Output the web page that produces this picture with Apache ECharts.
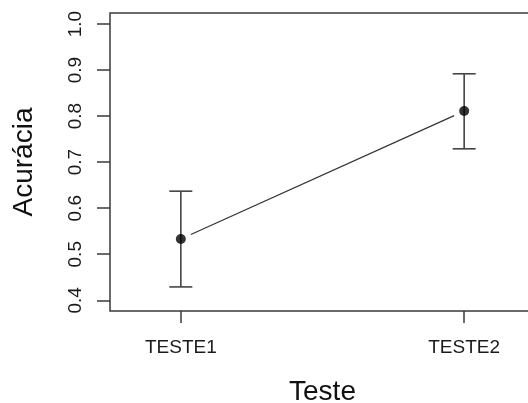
<!DOCTYPE html>
<html>
<head>
<meta charset="utf-8">
<script src="https://cdn.jsdelivr.net/npm/echarts@6/dist/echarts.min.js"></script>
<style>
  html, body { margin: 0; padding: 0; background: #fff; }
  #chart { width: 528px; height: 403px; }
</style>
</head>
<body>
<div id="chart"></div>
<script>
//  Data

var categories = ['TESTE1', 'TESTE2'];
var xPos = [1, 2];
var means = [0.533, 0.811];
var lower = [0.429, 0.729];
var upper = [0.637, 0.892];
var yTicks = [0.4, 0.5, 0.6, 0.7, 0.8, 0.9, 1.0];

var fontFam = 'Liberation Sans, Arial, sans-serif';

//  Series data built from arrays

var pointData = xPos.map(function(x, i) { return [x, means[i]]; });
var barData = xPos.map(function(x, i) { return [x, lower[i], upper[i]]; });
var lineData = [];
for (var i = 0; i < xPos.length - 1; i++) {
  lineData.push([xPos[i], means[i], xPos[i + 1], means[i + 1]]);
}

//  Chart

var myChart = echarts.init(document.getElementById('chart'), null, {renderer: 'canvas'});

var option = {
  animation: false,
  grid: {
    left: 110,
    top: 13,
    right: -7,
    bottom: 92,
    show: true,
    borderColor: '#3a3a3a',
    borderWidth: 1.5,
    backgroundColor: 'transparent',
    outerBoundsMode: 'none'
  },
  xAxis: {
    type: 'value',
    min: 0.75,
    max: 2.25,
    name: 'Teste',
    nameLocation: 'middle',
    nameGap: 67,
    nameTextStyle: { fontSize: 28, color: '#111', fontFamily: fontFam },
    splitLine: { show: false },
    axisLine: { show: false },
    axisTick: {
      show: true,
      length: 12,
      customValues: xPos,
      lineStyle: { color: '#3a3a3a', width: 1.5 }
    },
    axisLabel: {
      customValues: xPos,
      margin: 27,
      fontSize: 19,
      color: '#1a1a1a',
      fontFamily: fontFam,
      formatter: function(v) {
        var idx = xPos.indexOf(v);
        return idx >= 0 ? categories[idx] : '';
      }
    }
  },
  yAxis: {
    type: 'value',
    min: 0.3767,
    max: 1.024,
    name: 'Acurácia',
    nameLocation: 'middle',
    nameGap: 72,
    nameTextStyle: { fontSize: 28, color: '#111', fontFamily: fontFam },
    splitLine: { show: false },
    axisLine: { show: false },
    axisTick: {
      show: true,
      length: 13,
      customValues: yTicks,
      lineStyle: { color: '#3a3a3a', width: 1.5 }
    },
    axisLabel: {
      customValues: yTicks,
      rotate: 90,
      margin: 25,
      fontSize: 19,
      color: '#1a1a1a',
      fontFamily: fontFam,
      formatter: function(v) { return v.toFixed(1); }
    }
  },
  series: [
    {
      // connecting line, with small gaps around the points
      type: 'custom',
      data: lineData,
      renderItem: function(params, api) {
        var p1 = api.coord([api.value(0), api.value(1)]);
        var p2 = api.coord([api.value(2), api.value(3)]);
        var dx = p2[0] - p1[0], dy = p2[1] - p1[1];
        var len = Math.sqrt(dx * dx + dy * dy);
        var gap = 11;
        var ux = dx / len, uy = dy / len;
        return {
          type: 'line',
          shape: {
            x1: p1[0] + ux * gap, y1: p1[1] + uy * gap,
            x2: p2[0] - ux * gap, y2: p2[1] - uy * gap
          },
          style: { stroke: '#333', lineWidth: 1.2 }
        };
      },
      z: 2
    },
    {
      // error bars
      type: 'custom',
      data: barData,
      renderItem: function(params, api) {
        var lo = api.coord([api.value(0), api.value(1)]);
        var hi = api.coord([api.value(0), api.value(2)]);
        var hw = 11.5;
        var st = { stroke: '#444', lineWidth: 1.6 };
        return {
          type: 'group',
          children: [
            { type: 'line', shape: { x1: lo[0], y1: lo[1], x2: hi[0], y2: hi[1] }, style: st },
            { type: 'line', shape: { x1: hi[0] - hw, y1: hi[1], x2: hi[0] + hw, y2: hi[1] }, style: st },
            { type: 'line', shape: { x1: lo[0] - hw, y1: lo[1], x2: lo[0] + hw, y2: lo[1] }, style: st }
          ]
        };
      },
      z: 3
    },
    {
      type: 'scatter',
      data: pointData,
      symbol: 'circle',
      symbolSize: 10,
      itemStyle: { color: '#000' },
      z: 4
    }
  ]
};
myChart.setOption(option);
</script>
</body>
</html>
